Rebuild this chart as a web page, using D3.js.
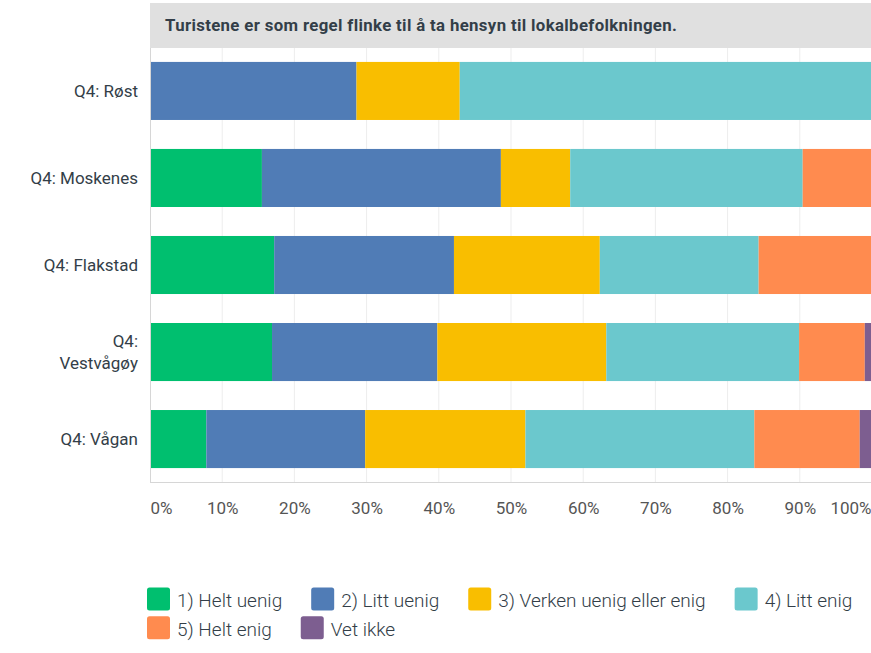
<!DOCTYPE html>
<html><head><meta charset="utf-8">
<script src="https://cdn.jsdelivr.net/npm/d3@7"></script>
<style>
body{margin:0;background:#fff;}
svg{display:block;}
</style></head>
<body><svg id="chart" width="871" height="653"></svg>
<script>
const title = "Turistene er som regel flinke til å ta hensyn til lokalbefolkningen.";
const categories = ["Q4: Røst", "Q4: Moskenes", "Q4: Flakstad", "Q4: Vestvågøy", "Q4: Vågan"];
const seriesNames = ["1) Helt uenig", "2) Litt uenig", "3) Verken uenig eller enig", "4) Litt enig", "5) Helt enig", "Vet ikke"];
const seriesColors = ["#00bf6f", "#507cb6", "#f9be00", "#6bc8cd", "#ff8b4f", "#7d5e90"];
const helt_uenig   = [0,    15.5, 17.2, 16.9, 7.8];
const litt_uenig   = [28.6, 33.1, 24.9, 22.9, 22.0];
const verken       = [14.3, 9.6,  20.2, 23.4, 22.2];
const litt_enig    = [57.1, 32.2, 22.0, 26.7, 31.7];
const helt_enig    = [0,    9.6,  15.7, 9.1,  14.6];
const vet_ikke     = [0,    0,    0,    1.0,  1.7];
const tickValues = [0,10,20,30,40,50,60,70,80,90,100];
const tickLabels = ["0%","10%","20%","30%","40%","50%","60%","70%","80%","90%","100%"];

const seriesData = [helt_uenig, litt_uenig, verken, litt_enig, helt_enig, vet_ikke];
const rows = categories.map((c,i)=>{
  const o = {cat:c};
  seriesNames.forEach((s,j)=>o[s]=seriesData[j][i]);
  return o;
});
const stack = d3.stack().keys(seriesNames)(rows);

const svg = d3.select("#chart");
const pLeft = 150, pRight = 872, pTop = 48, pBottom = 482;
const x = d3.scaleLinear().domain([0,100]).range([pLeft,pRight]);
const y = d3.scaleBand().domain(categories).range([pTop,pBottom]).paddingInner(0.333).paddingOuter(0.16);
const FONT = "Roboto, 'Noto Sans', sans-serif";

// title band
svg.append("rect").attr("x",pLeft).attr("y",3).attr("width",871-pLeft).attr("height",pTop-3).attr("fill","#e0e0e0");
svg.append("text").attr("x",165).attr("y",30.5).text(title)
  .attr("font-family",FONT).attr("font-weight","bold").attr("font-size",16.8)
  .attr("letter-spacing",0.35).attr("fill","#333e48");

// gridlines
svg.append("g").selectAll("line").data(tickValues.slice(1)).join("line")
  .attr("x1",d=>x(d)).attr("x2",d=>x(d)).attr("y1",pTop).attr("y2",pBottom)
  .attr("stroke","#ededed").attr("stroke-width",1);

// bars
svg.append("g").selectAll("g").data(stack).join("g")
  .attr("fill",(d,i)=>seriesColors[i])
  .selectAll("rect").data(d=>d).join("rect")
  .attr("x",d=>x(d[0])).attr("width",d=>x(d[1])-x(d[0]))
  .attr("y",d=>y(d.data.cat)).attr("height",y.bandwidth());

// axes lines
svg.append("line").attr("x1",pLeft+0.5).attr("x2",pLeft+0.5).attr("y1",pTop).attr("y2",pBottom).attr("stroke","#d6d6d6");
svg.append("line").attr("x1",pLeft).attr("x2",871).attr("y1",pBottom+0.5).attr("y2",pBottom+0.5).attr("stroke","#d6d6d6");

// x tick labels
const xAxis = d3.axisBottom(x).tickValues(tickValues).tickFormat((d,i)=>tickLabels[i]).tickSize(0).tickPadding(0);
const gx = svg.append("g").attr("transform",`translate(0,${pBottom})`).call(xAxis);
gx.select(".domain").remove();
gx.selectAll("text").attr("font-family",FONT).attr("font-size",17).attr("fill","#555")
  .attr("dy",null).attr("y",32)
  .attr("text-anchor",(d,i)=> i===0?"start":(i===tickValues.length-1?"end":"middle"))
  .attr("x",(d,i)=> i===tickValues.length-1? 871-x(d) : 0);

// y labels
const gy = svg.append("g");
categories.forEach(c=>{
  const cy = y(c)+y.bandwidth()/2;
  const lines = c==="Q4: Vestvågøy" ? ["Q4:","Vestvågøy"] : [c];
  const t = gy.append("text").attr("text-anchor","end")
    .attr("font-family",FONT).attr("font-size",17).attr("fill","#333e48");
  const lh = 22;
  lines.forEach((l,k)=>{
    t.append("tspan").attr("x",138).attr("y",cy + (k-(lines.length-1)/2)*lh + 6).text(l);
  });
});

// legend
const lg = svg.append("g");
let lx = 147, ly = 587.5;
seriesNames.forEach((s,i)=>{
  const g = lg.append("g");
  g.append("rect").attr("width",23).attr("height",23).attr("rx",2.5).attr("fill",seriesColors[i]);
  const t = g.append("text").attr("x",30).attr("y",19.5).text(s)
    .attr("font-family",FONT).attr("font-weight",300).attr("font-size",19).attr("fill","#333e48");
  const w = 30 + t.node().getComputedTextLength();
  if (lx + w > 871) { lx = 147; ly += 28.7; }
  g.attr("transform",`translate(${lx},${ly})`);
  lx += w + 29;
});
</script></body></html>
